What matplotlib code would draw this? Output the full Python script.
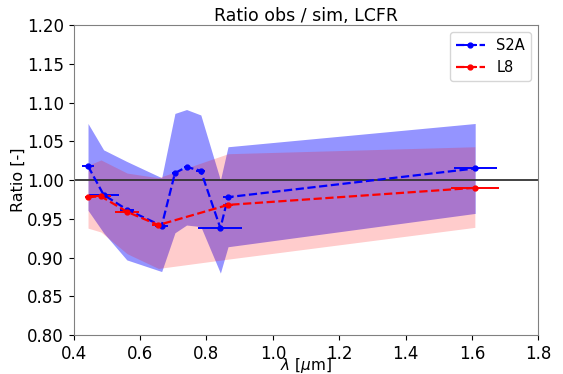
import matplotlib
matplotlib.use("Agg")
import matplotlib.pyplot as plt

# S2A bands
s2a_wl = [0.443, 0.490, 0.560, 0.665, 0.705, 0.740, 0.783, 0.842, 0.865, 1.610]
s2a_xerr = [0.018, 0.045, 0.022, 0.019, 0.010, 0.009, 0.014, 0.066, 0.016, 0.065]
s2a_ratio = [1.018, 0.981, 0.962, 0.941, 1.009, 1.017, 1.012, 0.938, 0.978, 1.015]
s2a_upper = [1.073, 1.039, 1.024, 1.003, 1.086, 1.091, 1.084, 1.000, 1.043, 1.073]
s2a_lower = [0.961, 0.932, 0.897, 0.882, 0.932, 0.942, 0.940, 0.880, 0.914, 0.957]

# L8 bands
l8_wl = [0.443, 0.482, 0.561, 0.655, 0.865, 1.609]
l8_xerr = [0.008, 0.030, 0.036, 0.019, 0.014, 0.072]
l8_ratio = [0.978, 0.979, 0.959, 0.942, 0.968, 0.990]
l8_upper = [1.019, 1.026, 1.009, 1.003, 1.034, 1.043]
l8_lower = [0.938, 0.933, 0.905, 0.886, 0.898, 0.939]

fig = plt.figure(figsize=(5.63, 3.74), dpi=100)
ax = fig.add_axes([0.131, 0.104, 0.825, 0.829])

ax.fill_between(s2a_wl, s2a_lower, s2a_upper, color="blue", alpha=0.42, linewidth=0)
ax.fill_between(l8_wl, l8_lower, l8_upper, color="red", alpha=0.2, linewidth=0)
ax.axhline(1.0, color="#333333", linewidth=1.3)

ax.errorbar(s2a_wl, s2a_ratio, xerr=s2a_xerr, color="blue", linestyle="--",
            marker="o", markersize=3.5, linewidth=1.6, elinewidth=1.4, label="S2A")
ax.errorbar(l8_wl, l8_ratio, xerr=l8_xerr, color="red", linestyle="--",
            marker="o", markersize=3.5, linewidth=1.6, elinewidth=1.4, label="L8")

ax.set_xlim(0.4, 1.8)
ax.set_ylim(0.8, 1.2)
ax.set_xticks([0.4, 0.6, 0.8, 1.0, 1.2, 1.4, 1.6, 1.8])
ax.set_yticks([0.80, 0.85, 0.90, 0.95, 1.00, 1.05, 1.10, 1.15, 1.20])
ax.set_yticklabels([f"{v:.2f}" for v in ax.get_yticks()])
ax.tick_params(labelsize=12, colors="black")
for s in ax.spines.values():
    s.set_color("gray")
ax.set_xlabel(r"$\lambda$ [$\mu$m]", fontsize=11, labelpad=-5)
ax.set_ylabel("Ratio [-]", fontsize=11.5, labelpad=1)
ax.set_title("Ratio obs / sim, LCFR", fontsize=12.5, pad=3)
ax.legend(loc="upper right", fontsize=10.5)

fig.savefig("out.png", dpi=100)
